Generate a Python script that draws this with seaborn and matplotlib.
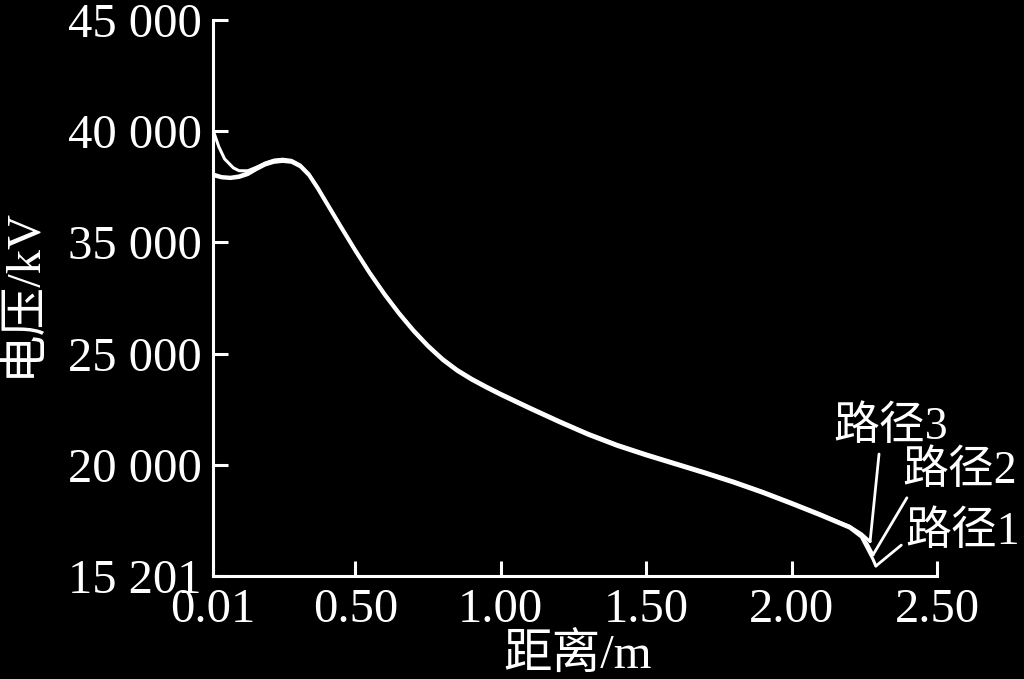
import matplotlib
matplotlib.use("Agg")
import matplotlib.pyplot as plt
import seaborn as sns
import pandas as pd

# ---------------- data ----------------
x_path1 = [0.01, 0.04, 0.07, 0.10, 0.13, 0.16, 0.19, 0.22, 0.25, 0.28, 0.31, 0.34,
           0.37, 0.40, 0.45, 0.50, 0.55, 0.60, 0.65, 0.70, 0.75, 0.80, 0.85, 0.90, 0.95, 1.00,
           1.10, 1.20, 1.30, 1.40, 1.50, 1.60, 1.70, 1.80, 1.90, 2.00, 2.10, 2.20,
           2.24, 2.26, 2.28, 2.29]
y_path1 = [38000, 37900, 37870, 37920, 38050, 38280, 38480, 38600, 38640, 38600, 38400, 38000,
           37400, 36740, 35650, 34580, 33560, 32620, 31760, 30980, 30290, 29690, 29200, 28800, 28450, 28120,
           27500, 26900, 26330, 25830, 25400, 25000, 24600, 24180, 23720, 23220, 22700, 22150,
           21750, 21250, 20750, 20450]

x_path2 = [0.01, 0.04, 0.07, 0.10, 0.13, 0.16, 0.19, 0.22, 0.25, 0.28, 0.31, 0.34,
           0.37, 0.40, 0.45, 0.50, 0.55, 0.60, 0.65, 0.70, 0.75, 0.80, 0.85, 0.90, 0.95, 1.00,
           1.10, 1.20, 1.30, 1.40, 1.50, 1.60, 1.70, 1.80, 1.90, 2.00, 2.10, 2.20,
           2.24, 2.26, 2.28]
y_path2 = [38080, 37960, 37930, 37990, 38130, 38360, 38570, 38700, 38740, 38690, 38480, 38080,
           37490, 36830, 35740, 34670, 33650, 32710, 31850, 31070, 30380, 29780, 29290, 28890, 28540, 28210,
           27590, 26990, 26420, 25920, 25490, 25090, 24690, 24270, 23810, 23310, 22790, 22230,
           21820, 21450, 20950]

x_path3 = [0.01, 0.03, 0.05, 0.08, 0.10, 0.13, 0.16, 0.19, 0.22, 0.25, 0.28, 0.31, 0.34,
           0.37, 0.40, 0.45, 0.50, 0.55, 0.60, 0.65, 0.70, 0.75, 0.80, 0.85, 0.90, 0.95, 1.00,
           1.10, 1.20, 1.30, 1.40, 1.50, 1.60, 1.70, 1.80, 1.90, 2.00, 2.10, 2.20,
           2.24, 2.27]
y_path3 = [40050, 39300, 38750, 38350, 38220, 38220, 38380, 38560, 38680, 38710, 38660, 38460, 38060,
           37460, 36800, 35710, 34640, 33620, 32680, 31820, 31040, 30350, 29750, 29260, 28860, 28510, 28180,
           27560, 26960, 26390, 25890, 25460, 25060, 24660, 24240, 23780, 23280, 22760, 22230,
           21900, 21550]

path_names = ["路径1", "路径2", "路径3"]

x_ticks = [0.01, 0.50, 1.00, 1.50, 2.00, 2.50]
x_ticklabels = ["0.01", "0.50", "1.00", "1.50", "2.00", "2.50"]
y_ticks = [20000, 25000, 30000, 35000, 40000, 45000]
y_ticklabels = ["15 201", "20 000", "25 000", "35 000", "40 000", "45 000"]

x_label = "距离/m"
y_label = "电压/kV"

# ---------------- build long-form table ----------------
frames = []
for name, xs, ys in zip(path_names, [x_path1, x_path2, x_path3], [y_path1, y_path2, y_path3]):
    frames.append(pd.DataFrame({"x": xs, "y": ys, "path": name}))
df = pd.concat(frames, ignore_index=True)

# ---------------- style ----------------
sns.set_style("white")
plt.rcParams["font.family"] = ["Liberation Serif", "Noto Sans CJK SC"]
plt.rcParams["axes.unicode_minus"] = False

fig = plt.figure(figsize=(10.24, 6.79), dpi=100, facecolor="black")
ax = fig.add_axes([0.208, 0.1517, 0.707, 0.8189], facecolor="black")

sns.lineplot(data=df, x="x", y="y", hue="path", units="path", estimator=None,
             sort=False, palette=["white"] * 3, linewidth=2.2, legend=False, ax=ax)

ax.set_xlim(0.01, 2.50)
ax.set_ylim(20000, 45000)
ax.set_xticks(x_ticks)
ax.set_xticklabels(x_ticklabels)
ax.set_yticks(y_ticks)
ax.set_yticklabels(y_ticklabels)

for side in ["top", "right"]:
    ax.spines[side].set_visible(False)
for side in ["left", "bottom"]:
    ax.spines[side].set_color("white")
    ax.spines[side].set_linewidth(2.2)

ax.tick_params(axis="both", which="major", direction="in", length=11, width=2.2,
               colors="white", labelsize=35, left=True, bottom=True)
ax.tick_params(axis="y", pad=8)
ax.tick_params(axis="x", pad=9)

ax.set_xlabel(x_label, fontsize=35, color="white")
ax.set_ylabel(y_label, fontsize=35, color="white")
ax.xaxis.set_label_coords(0.503, -0.102)
ax.yaxis.set_label_coords(-0.232, 0.51)

# ---------------- annotations ----------------
ends = {
    "路径1": (x_path1[-1], y_path1[-1]),
    "路径2": (x_path2[-1], y_path2[-1]),
    "路径3": (x_path3[-1], y_path3[-1]),
}
label_pos = {
    "路径3": ((891 - 213) / 290.76 + 0.01, 45000 - (428 - 20) / 22.24 * 1000, (0.40, 0.0)),
    "路径2": ((960 - 213) / 290.76 + 0.01, 45000 - (472 - 20) / 22.24 * 1000, (0.06, 0.0)),
    "路径1": ((963 - 213) / 290.76 + 0.01, 45000 - (533 - 20) / 22.24 * 1000, (0.0, 0.3)),
}
for name in ["路径3", "路径2", "路径1"]:
    tx, ty, rp = label_pos[name]
    ax.annotate(name, xy=ends[name], xytext=(tx, ty), textcoords="data",
                ha="center", va="center", fontsize=33, color="white",
                annotation_clip=False,
                arrowprops=dict(arrowstyle="-", color="white", lw=2.0,
                                relpos=rp, shrinkA=1, shrinkB=0))

fig.savefig("out.png", dpi=100, facecolor="black")
